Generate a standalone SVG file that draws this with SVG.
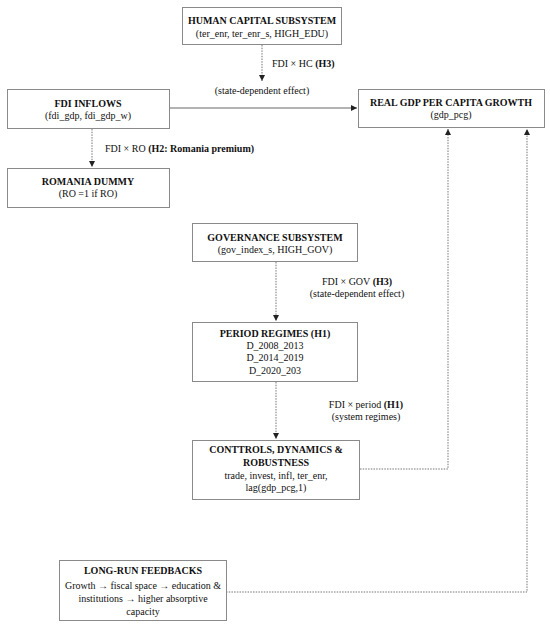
<svg xmlns="http://www.w3.org/2000/svg" width="550" height="628" viewBox="0 0 550 628">
<style>
.box{fill:#fff;stroke:#8a8a8a;stroke-width:1}
text{font-family:'Liberation Serif','Times New Roman',serif;font-size:10px;fill:#111;text-anchor:middle}
.t{font-weight:bold}
.l{text-anchor:start}
.b{font-weight:bold}
.solid{fill:none;stroke:#666;stroke-width:1}
.dot{fill:none;stroke:#666;stroke-width:0.9;stroke-dasharray:1.5 1.2}
</style>
<defs>
<marker id="ah" markerWidth="6" markerHeight="6" refX="6" refY="3" orient="auto" markerUnits="userSpaceOnUse">
<path d="M0,0 L6,3 L0,6 Z" fill="#222"/>
</marker>
</defs>
<rect width="550" height="628" fill="#fff"/>
<g id="connectors">
<path class="dot" d="M262,45 V81" marker-end="url(#ah)"/>
<path class="solid" d="M169,108 H357" marker-end="url(#ah)"/>
<path class="dot" d="M92,129 V167" marker-end="url(#ah)"/>
<path class="dot" d="M276,262 V321" marker-end="url(#ah)"/>
<path class="dot" d="M276,382 V439" marker-end="url(#ah)"/>
<path class="dot" d="M360,469 H448 V129" marker-end="url(#ah)"/>
<path class="dot" d="M226,592 H527 V129" marker-end="url(#ah)"/>
<text x="272" y="67" class="l">FDI × HC <tspan class="b">(H3)</tspan></text>
<text x="262" y="94">(state-dependent effect)</text>
<text x="105" y="152" class="l">FDI × RO  <tspan class="b">(H2: Romania premium)</tspan></text>
<text x="357" y="285">FDI × GOV  <tspan class="b">(H3)</tspan></text>
<text x="357" y="297">(state-dependent effect)</text>
<text x="366" y="408">FDI × period  <tspan class="b">(H1)</tspan></text>
<text x="366" y="420">(system regimes)</text>
</g>
<g id="human-capital">
<rect class="box" x="182.5" y="7.5" width="159" height="37"/>
<text x="262" y="24" class="t">HUMAN CAPITAL SUBSYSTEM</text>
<text x="262" y="37">(ter_enr, ter_enr_s, HIGH_EDU)</text>
</g>
<g id="fdi-inflows">
<rect class="box" x="7.5" y="89.5" width="162" height="39"/>
<text x="88" y="107" class="t">FDI INFLOWS</text>
<text x="88" y="119">(fdi_gdp, fdi_gdp_w)</text>
</g>
<g id="real-gdp">
<rect class="box" x="358.5" y="89.5" width="186" height="38"/>
<text x="451" y="106" class="t">REAL GDP PER CAPITA GROWTH</text>
<text x="451" y="118">(gdp_pcg)</text>
</g>
<g id="romania-dummy">
<rect class="box" x="7.5" y="168.5" width="162" height="39"/>
<text x="88" y="185" class="t">ROMANIA DUMMY</text>
<text x="88" y="197">(RO =1 if RO)</text>
</g>
<g id="governance">
<rect class="box" x="192.5" y="223.5" width="165" height="38"/>
<text x="275" y="241" class="t">GOVERNANCE SUBSYSTEM</text>
<text x="275" y="253">(gov_index_s, HIGH_GOV)</text>
</g>
<g id="period-regimes">
<rect class="box" x="192.5" y="322.5" width="165" height="59"/>
<text x="275" y="337" class="t">PERIOD REGIMES (H1)</text>
<text x="275" y="349">D_2008_2013</text>
<text x="275" y="361">D_2014_2019</text>
<text x="275" y="374">D_2020_203</text>
</g>
<g id="controls">
<rect class="box" x="192.5" y="440.5" width="167" height="59"/>
<text x="276" y="453" class="t">CONTTROLS, DYNAMICS &amp;</text>
<text x="276" y="466" class="t">ROBUSTNESS</text>
<text x="276" y="479">trade, invest, infl, ter_enr,</text>
<text x="276" y="491">lag(gdp_pcg,1)</text>
</g>
<g id="long-run">
<rect class="box" x="59.5" y="560.5" width="167" height="60"/>
<text x="143" y="574" class="t">LONG-RUN FEEDBACKS</text>
<text x="143" y="589">Growth → fiscal space → education &amp;</text>
<text x="143" y="602">institutions → higher absorptive</text>
<text x="143" y="615">capacity</text>
</g>
</svg>
